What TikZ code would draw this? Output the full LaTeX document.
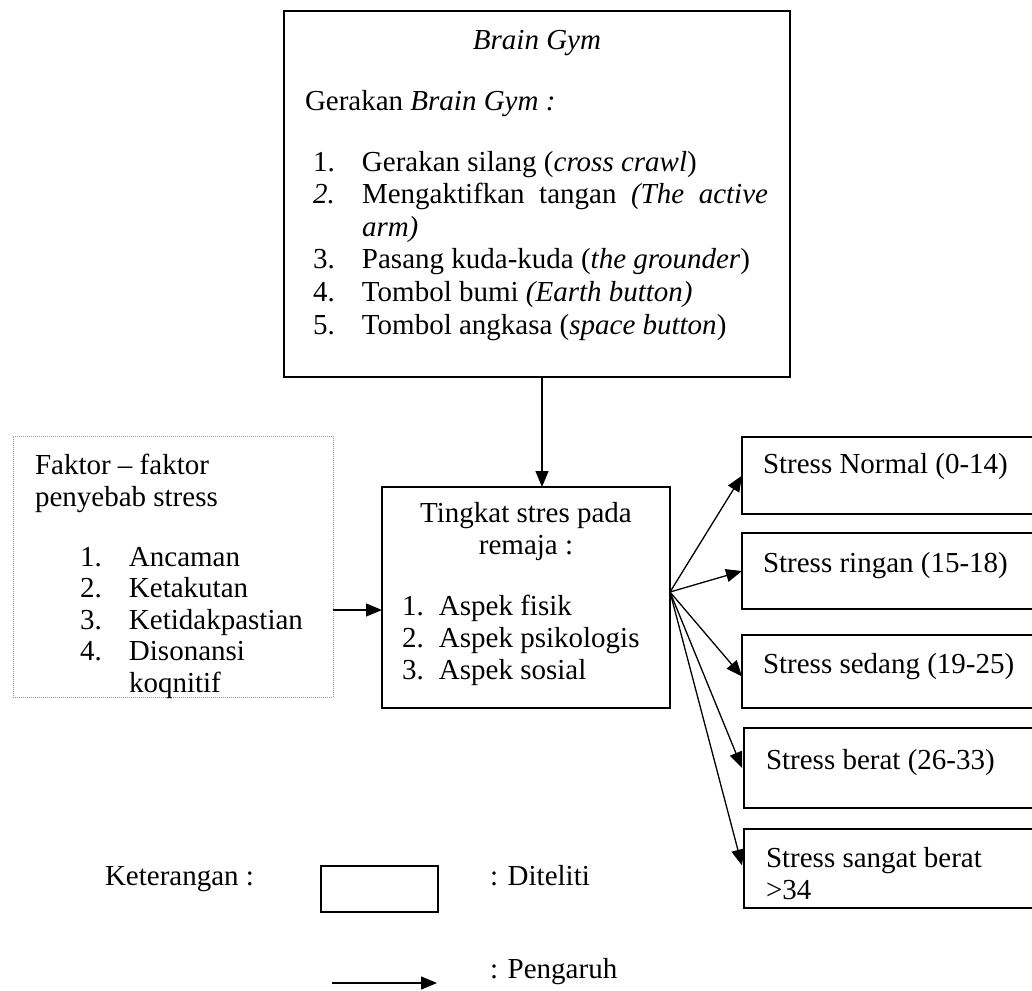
\documentclass[tikz,border=0pt]{standalone}
\usepackage{fontspec}
\setmainfont{Liberation Serif}
\usetikzlibrary{arrows.meta}
\begin{document}
\begin{tikzpicture}[x=1pt,y=-1pt,
  box/.style={draw, line width=1.6pt, inner sep=0pt, outer sep=0pt, rectangle},
  dotbox/.style={draw=gray!80, densely dotted, line width=1pt, inner sep=0pt, outer sep=0pt, rectangle},
  txt/.style={inner sep=0pt, outer sep=0pt, anchor=base west, font=\fontsize{29}{32}\selectfont},
  arr/.style={line width=1.3pt, -{Triangle[length=16pt,width=13pt]}}]
\useasboundingbox (0,0) rectangle (1032,990);

% boxes
\node[box, minimum width=506pt, minimum height=366pt] (top) at (537,194) {};
\node[box, minimum width=288pt, minimum height=221pt] (mid) at (526,597.5) {};
\node[dotbox, minimum width=320pt, minimum height=261pt] (dot) at (173,566.5) {};
\node[box, minimum width=318pt, minimum height=77pt] (b1) at (901,475.5) {};
\node[box, minimum width=318pt, minimum height=76pt] (b2) at (901,571) {};
\node[box, minimum width=318pt, minimum height=73pt] (b3) at (901,671.5) {};
\node[box, minimum width=316pt, minimum height=80pt] (b4) at (902,768) {};
\node[box, minimum width=316pt, minimum height=79pt] (b5) at (902,868.5) {};
\node[box, minimum width=117pt, minimum height=46pt] (lbox) at (379.5,889) {};

% top box text
\node[txt, anchor=base] (t0) at (537,49) {\textit{Brain Gym}};
\node[txt] (t1) at (305,110) {Gerakan \textit{Brain Gym :}};
\node[txt, font=\fontsize{29}{32.6}\selectfont] (t2) at (313,171) {\begin{tabular}[t]{@{}l@{}}
\makebox[49pt][l]{1.}Gerakan silang (\textit{cross crawl})\\
\makebox[49pt][l]{\textit{2.}}\makebox[406pt][s]{Mengaktifkan tangan \textit{(The active}}\\
\hspace*{49pt}\textit{arm)}\\
\makebox[49pt][l]{3.}Pasang kuda-kuda (\textit{the grounder})\\
\makebox[49pt][l]{4.}Tombol bumi \textit{(Earth button)}\\
\makebox[49pt][l]{5.}Tombol angkasa (\textit{space button})
\end{tabular}};

% middle box text
\node[txt, anchor=base] (m0) at (526,522) {\begin{tabular}[t]{@{}c@{}}Tingkat stres pada\\remaja :\end{tabular}};
\node[txt] (m1) at (402,615) {\begin{tabular}[t]{@{}l@{}}
\makebox[37pt][l]{1.}Aspek fisik\\
\makebox[37pt][l]{2.}Aspek psikologis\\
\makebox[37pt][l]{3.}Aspek sosial
\end{tabular}};

% dotted box text
\node[txt] (d0) at (35,474) {\begin{tabular}[t]{@{}l@{}}Faktor – faktor\\penyebab stress\end{tabular}};
\node[txt, font=\fontsize{29}{31.6}\selectfont] (d1) at (80,566) {\begin{tabular}[t]{@{}l@{}}
\makebox[49pt][l]{1.}Ancaman\\
\makebox[49pt][l]{2.}Ketakutan\\
\makebox[49pt][l]{3.}Ketidakpastian\\
\makebox[49pt][l]{4.}Disonansi\\
\hspace*{49pt}koqnitif
\end{tabular}};

% right boxes text
\node[txt] (r1) at (763,473) {Stress Normal (0-14)};
\node[txt] (r2) at (763,572) {Stress ringan (15-18)};
\node[txt] (r3) at (763,673) {Stress sedang (19-25)};
\node[txt] (r4) at (766,769) {Stress berat (26-33)};
\node[txt] (r5) at (766,867) {\begin{tabular}[t]{@{}l@{}}Stress sangat berat\\>34\end{tabular}};

% legend
\node[txt] (k0) at (105,885) {Keterangan :};
\node[txt] (k1) at (490,885) {: Diteliti};
\node[txt] (k2) at (490,978) {: Pengaruh};
\coordinate (la1) at (332,983);
\coordinate (la2) at (437,983);

% connectors
\draw[arr] ([xshift=5pt]top.south) -- ([xshift=16pt]mid.north);
\coordinate (ay) at (0,610);
\draw[arr] (dot.east |- ay) -- (mid.west |- ay);
\coordinate (fy) at (0,592);
\coordinate (fan) at (mid.east |- fy);
\draw[arr] (fan) -- (b1.west);
\draw[arr] (fan) -- (b2.west);
\draw[arr] (fan) -- ([yshift=-5pt]b3.west);
\draw[arr] (fan) -- ([xshift=-2pt]b4.west);
\draw[arr] (fan) -- ([xshift=-2pt,yshift=3pt]b5.west);
\draw[arr] (la1) -- (la2);
\end{tikzpicture}
\end{document}
